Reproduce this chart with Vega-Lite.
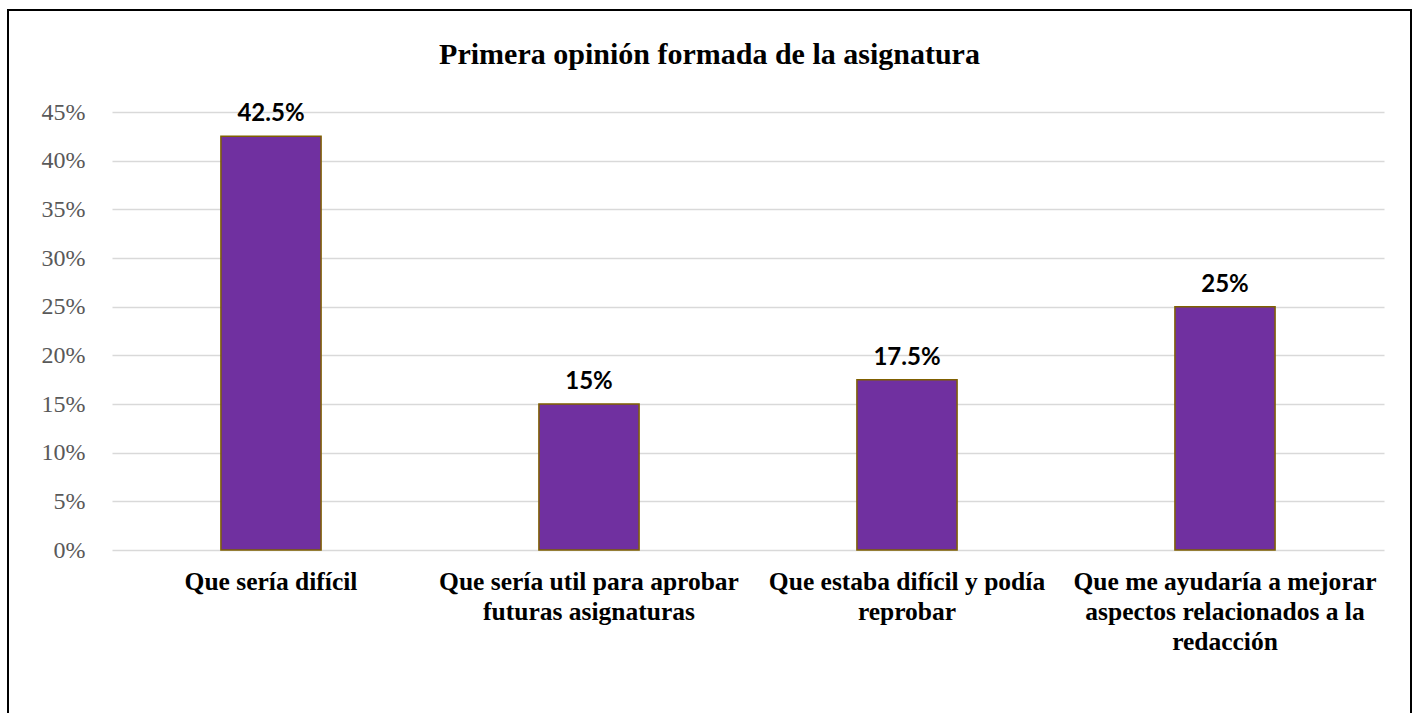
{
  "$schema": "https://vega.github.io/schema/vega-lite/v6.json",
  "autosize": {"type": "none"},
  "padding": {"left": 8, "top": 10, "right": 2, "bottom": 0},
  "width": 1403,
  "height": 720,
  "title": {
    "text": "Primera opinión formada de la asignatura",
    "font": "Liberation Serif",
    "fontSize": 30,
    "fontWeight": "bold",
    "color": "#000000",
    "anchor": "middle",
    "frame": "group",
    "baseline": "alphabetic",
    "offset": -84
  },
  "data": {
    "values": [
      {"opinion": "Que sería difícil", "pct": 0.425, "label": "42.5%"},
      {"opinion": "Que sería util para aprobar futuras asignaturas", "pct": 0.15, "label": "15%"},
      {"opinion": "Que estaba difícil y podía reprobar", "pct": 0.175, "label": "17.5%"},
      {"opinion": "Que me ayudaría a mejorar aspectos relacionados a la redacción", "pct": 0.25, "label": "25%"}
    ]
  },
  "encoding": {
    "x": {
      "field": "opinion",
      "type": "nominal",
      "sort": null,
      "scale": {"range": [104, 1376], "paddingInner": 0.685, "paddingOuter": 0.3425},
      "axis": {
        "title": null,
        "orient": "bottom",
        "offset": -180,
        "domain": false,
        "ticks": false,
        "labelAngle": 0,
        "labelFont": "Liberation Serif",
        "labelFontSize": 25.5,
        "labelFontWeight": "bold",
        "labelColor": "#000000",
        "labelBaseline": "top",
        "labelPadding": 19,
        "labelLineHeight": 30,
        "labelLimit": 400,
        "labelExpr": "datum.value == 'Que sería util para aprobar futuras asignaturas' ? ['Que sería util para aprobar', 'futuras asignaturas'] : datum.value == 'Que estaba difícil y podía reprobar' ? ['Que estaba difícil y podía', 'reprobar'] : datum.value == 'Que me ayudaría a mejorar aspectos relacionados a la redacción' ? ['Que me ayudaría a mejorar', 'aspectos relacionados a la', 'redacción'] : datum.value"
      }
    },
    "y": {
      "field": "pct",
      "type": "quantitative",
      "scale": {"domain": [0, 0.45], "range": [540, 102], "nice": false},
      "axis": {
        "title": null,
        "format": ".0%",
        "values": [0, 0.05, 0.1, 0.15, 0.2, 0.25, 0.3, 0.35, 0.4, 0.45],
        "offset": -104,
        "domain": false,
        "ticks": false,
        "grid": true,
        "gridColor": "#D9D9D9",
        "gridWidth": 1.5,
        "labelFont": "Liberation Serif",
        "labelFontSize": 24,
        "labelColor": "#595959",
        "labelPadding": 27
      }
    }
  },
  "layer": [
    {
      "mark": {"type": "bar", "color": "#7030A0", "stroke": "#7F6000", "strokeWidth": 1.5}
    },
    {
      "mark": {"type": "text", "baseline": "alphabetic", "dy": -15, "font": "Lato", "fontSize": 24, "fontWeight": "bold", "color": "#000000"},
      "encoding": {"text": {"field": "label"}}
    }
  ],
  "config": {
    "view": {"stroke": "#000000", "strokeWidth": 2},
    "background": "#ffffff"
  }
}
